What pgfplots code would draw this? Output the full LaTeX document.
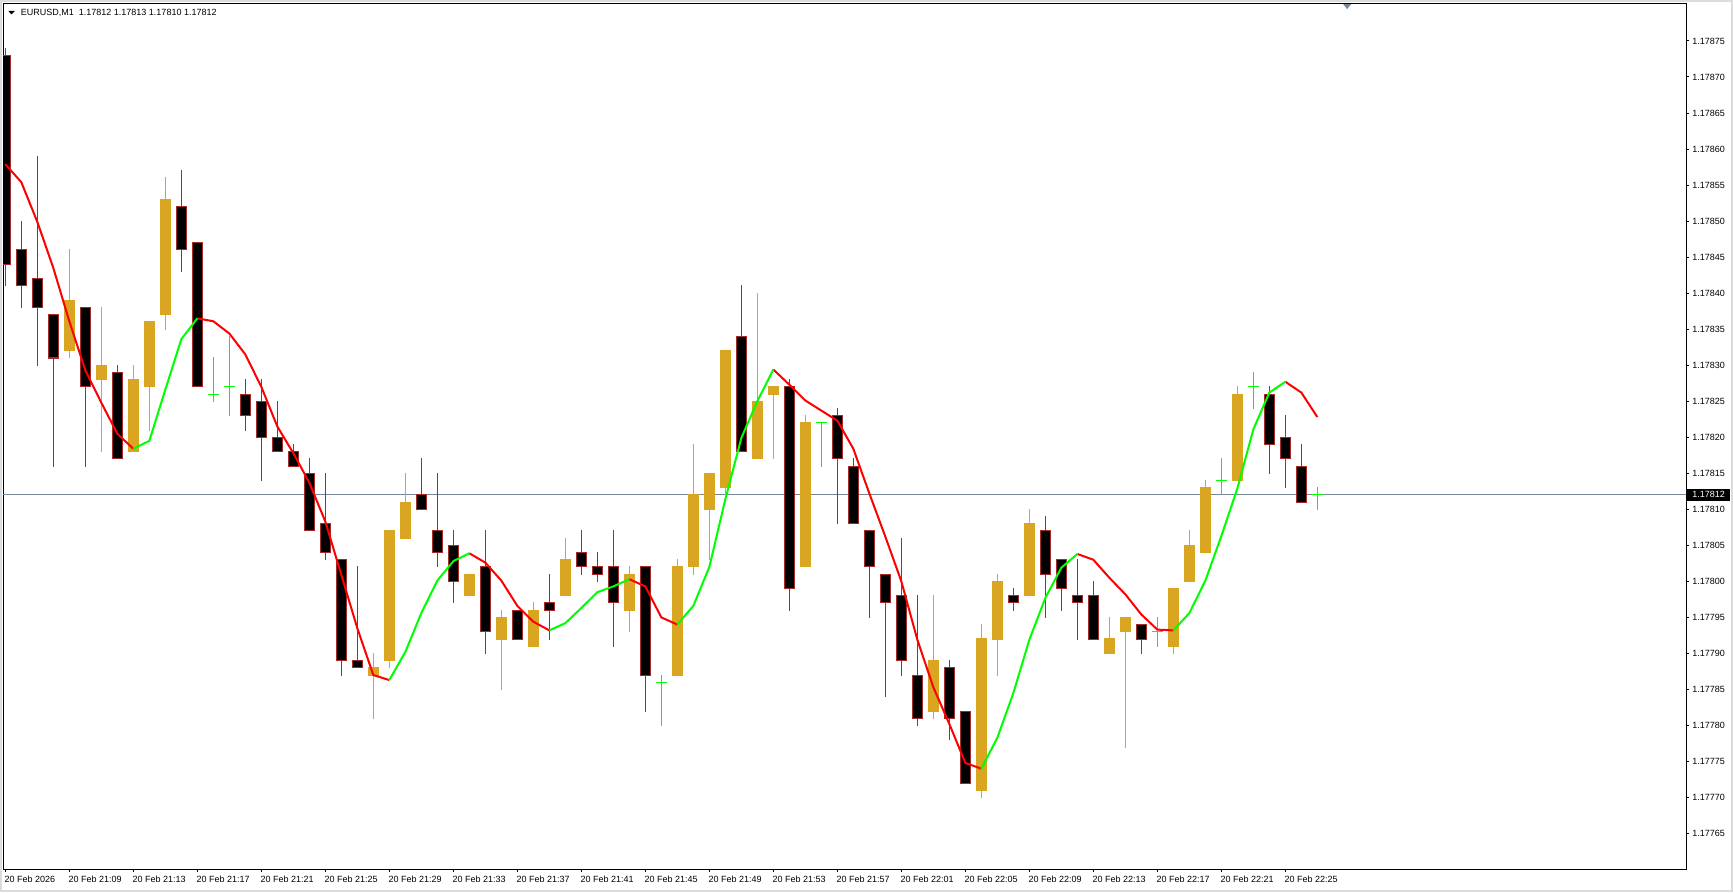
\documentclass[border=0pt]{standalone}
\usepackage{fontspec}
\setmainfont{Liberation Sans}
\usepackage{pgfplots}
\usepackage{pgfplotstable}
\pgfplotsset{compat=1.18}
\definecolor{bull}{HTML}{DAA520}
\definecolor{bearedge}{HTML}{A52A2A}
\definecolor{doji}{HTML}{00FF00}
\definecolor{maup}{HTML}{00FF00}
\definecolor{madn}{HTML}{FF0000}
\definecolor{pline}{HTML}{778899}
\definecolor{winborder}{HTML}{DCDCDC}

% EURUSD M1 candles, prices as offsets: v means 1.17000 + v*0.00001
\pgfplotstableread{
i o h l c
0 873 874 841 844
1 846 850 838 841
2 842 859 830 838
3 837 837 816 831
4 832 846 831 839
5 838 838 816 827
6 828 838 818 830
7 829 830 817 817
8 818 830 818 828
9 827 836 821 836
10 837 856 835 853
11 852 857 843 846
12 847 847 827 827
13 826 831 825 826
14 827 834 823 827
15 826 828 821 823
16 825 828 814 820
17 820 825 818 818
18 818 819 816 816
19 815 817 807 807
20 808 815 803 804
21 803 803 787 789
22 789 802 788 788
23 787 790 781 788
24 789 807 788 807
25 806 815 806 811
26 812 817 810 810
27 807 815 802 804
28 805 807 797 800
29 798 801 798 801
30 802 807 790 793
31 792 796 785 795
32 796 796 792 792
33 791 797 791 796
34 797 801 792 796
35 798 806 798 803
36 804 807 801 802
37 802 804 800 801
38 802 807 791 797
39 796 802 793 801
40 802 802 782 787
41 786 787 780 786
42 787 803 787 802
43 802 819 801 812
44 810 815 803 815
45 813 832 812 832
46 834 841 818 818
47 817 840 817 825
48 826 827 817 827
49 827 828 796 799
50 802 823 802 822
51 822 822 816 822
52 823 824 808 817
53 816 817 808 808
54 807 807 795 802
55 801 801 784 797
56 798 806 787 789
57 787 798 780 781
58 782 798 781 789
59 788 789 778 781
60 782 782 772 772
61 771 794 770 792
62 792 801 787 800
63 798 799 796 797
64 798 810 798 808
65 807 809 795 801
66 803 803 796 799
67 798 803 792 797
68 798 800 792 792
69 790 795 790 792
70 793 795 777 795
71 794 794 790 792
72 793 795 791 793
73 791 799 790 799
74 800 807 800 805
75 804 814 804 813
76 814 817 812 814
77 814 827 814 826
78 827 829 824 827
79 826 827 815 819
80 820 823 813 817
81 816 819 811 811
82 812 813 810 812
}\candles

% moving average (same offsets); r=1: point on a falling (red) run, g=1: on a rising (green) run
\pgfplotstableread{
i ma r g
0 857.9 1 0
1 855.4 1 0
2 849.9 1 0
3 843.5 1 0
4 836.1 1 0
5 829.3 1 0
6 824.8 1 0
7 820.5 1 0
8 818.4 1 1
9 819.5 0 1
10 826.6 0 1
11 833.6 0 1
12 836.5 1 1
13 836.1 1 0
14 834.4 1 0
15 831.5 1 0
16 827.0 1 0
17 821.5 1 0
18 817.8 1 0
19 813.7 1 0
20 808.3 1 0
21 800.9 1 0
22 793.5 1 0
23 787.0 1 0
24 786.3 1 1
25 790.2 0 1
26 795.6 0 1
27 800.1 0 1
28 802.8 0 1
29 803.9 1 1
30 802.6 1 0
31 800.1 1 0
32 796.6 1 0
33 794.4 1 0
34 793.2 1 1
35 794.2 0 1
36 796.3 0 1
37 798.5 0 1
38 799.3 0 1
39 800.3 1 1
40 799.3 1 0
41 795.0 1 0
42 794.0 1 1
43 796.6 0 1
44 802.0 0 1
45 811.4 0 1
46 819.9 0 1
47 825.0 0 1
48 829.4 1 1
49 827.3 1 0
50 825.1 1 0
51 823.7 1 0
52 822.3 1 0
53 818.4 1 0
54 812.2 1 0
55 806.2 1 0
56 800.0 1 0
57 791.9 1 0
58 785.3 1 0
59 780.2 1 0
60 774.8 1 0
61 774.0 1 1
62 778.3 0 1
63 784.5 0 1
64 791.9 0 1
65 797.7 0 1
66 801.9 0 1
67 803.8 1 1
68 803.0 1 0
69 800.5 1 0
70 798.2 1 0
71 795.4 1 0
72 793.3 1 0
73 793.2 1 1
74 795.6 0 1
75 800.1 0 1
76 806.3 0 1
77 812.9 0 1
78 821.1 0 1
79 826.2 0 1
80 827.7 1 1
81 826.2 1 0
82 822.8 1 0
}\matable

\begin{document}
\begin{tikzpicture}
\path[use as bounding box, fill=white] (0,0) rectangle (1299.75pt,669pt);
\draw[winborder, line width=1.5pt] (0.75pt,0.75pt) rectangle (1299pt,668.25pt);
\begin{axis}[
  at={(2.25pt,17.25pt)}, anchor=south west,
  scale only axis, width=1262.25pt, height=649.125pt,
  xmin=-0.144, xmax=105.04, ymin=760.08, ymax=880.2,
  axis line style={black, line width=0.75pt},
  tick align=outside, major tick length=2.25pt,
  tick style={black, line width=0.75pt},
  xtick pos=left, ytick pos=right, yticklabel pos=right,
  xtick={0,4,...,80},
  xticklabels={20 Feb 2026,20 Feb 21:09,20 Feb 21:13,20 Feb 21:17,20 Feb 21:21,20 Feb 21:25,20 Feb 21:29,20 Feb 21:33,20 Feb 21:37,20 Feb 21:41,20 Feb 21:45,20 Feb 21:49,20 Feb 21:53,20 Feb 21:57,20 Feb 22:01,20 Feb 22:05,20 Feb 22:09,20 Feb 22:13,20 Feb 22:17,20 Feb 22:21,20 Feb 22:25},
  ytick={765,770,...,875},
  yticklabels={1.17765,1.17770,1.17775,1.17780,1.17785,1.17790,1.17795,1.17800,1.17805,1.17810,1.17815,1.17820,1.17825,1.17830,1.17835,1.17840,1.17845,1.17850,1.17855,1.17860,1.17865,1.17870,1.17875},
  ticklabel style={font=\fontsize{6.75pt}{8pt}\selectfont, inner sep=0pt, text=black},
  xticklabel style={anchor=north west, xshift=-0.75pt, yshift=-2.5pt},
  yticklabel style={anchor=west, xshift=2.25pt},
  grid=none,
  candle/.style={only marks, mark=*, mark size=0pt, mark options={draw=none, fill=none},
    error bars/y dir=both, error bars/y explicit, error bars/error mark=none},
]
% current price line
\addplot[pline, line width=0.75pt] coordinates {(-1,812) (106,812)};
% wicks
\addplot[candle, error bars/error bar style={bearedge, line width=0.75pt}]
  table[x=i, y expr={\thisrow{c}<\thisrow{o} ? 0.5*(\thisrow{h}+\thisrow{l}) : nan},
        y error expr={0.5*(\thisrow{h}-\thisrow{l})+0.07}] {\candles};
\addplot[candle, error bars/error bar style={bull, line width=0.75pt}]
  table[x=i, y expr={\thisrow{c}>\thisrow{o} ? 0.5*(\thisrow{h}+\thisrow{l}) : nan},
        y error expr={0.5*(\thisrow{h}-\thisrow{l})+0.07}] {\candles};
\addplot[candle, error bars/error bar style={doji, line width=0.75pt}]
  table[x=i, y expr={\thisrow{c}==\thisrow{o} ? 0.5*(\thisrow{h}+\thisrow{l}) : nan},
        y error expr={0.5*(\thisrow{h}-\thisrow{l})+0.07}] {\candles};
% bodies
\addplot[candle, error bars/error bar style={bull, line width=8.25pt}]
  table[x=i, y expr={\thisrow{c}>\thisrow{o} ? 0.5*(\thisrow{o}+\thisrow{c}) : nan},
        y error expr={0.5*(\thisrow{c}-\thisrow{o})+0.07}] {\candles};
\addplot[candle, error bars/error bar style={bearedge, line width=8.25pt}]
  table[x=i, y expr={\thisrow{c}<\thisrow{o} ? 0.5*(\thisrow{o}+\thisrow{c}) : nan},
        y error expr={0.5*(\thisrow{o}-\thisrow{c})+0.07}] {\candles};
\addplot[candle, error bars/error bar style={black, line width=6.75pt}]
  table[x=i, y expr={\thisrow{c}<\thisrow{o} ? 0.5*(\thisrow{o}+\thisrow{c}) : nan},
        y error expr={0.5*(\thisrow{o}-\thisrow{c})-0.069}] {\candles};
% doji crosses (horizontal bar)
\addplot[only marks, mark=-, mark size=4.125pt, mark options={doji, line width=0.75pt}]
  table[x=i, y expr={\thisrow{c}==\thisrow{o} ? \thisrow{o} : nan}] {\candles};
% moving average, coloured by direction
\addplot[madn, line width=1.5pt, unbounded coords=jump, mark=none]
  table[x=i, y expr={\thisrow{r}==1 ? \thisrow{ma} : nan}] {\matable};
\addplot[maup, line width=1.5pt, unbounded coords=jump, mark=none]
  table[x=i, y expr={\thisrow{g}==1 ? \thisrow{ma} : nan}] {\matable};
\coordinate (pricelbl) at (axis cs:105.04,812);
\coordinate (shiftmark) at (axis cs:83.86,880.2);
\end{axis}
\node[fill=black, text=white, anchor=west, inner sep=0pt, minimum width=31.9pt, minimum height=8.6pt,
  font=\fontsize{6.75pt}{8pt}\selectfont, xshift=0.75pt] at (pricelbl) {1.17812};
\fill[pline] ([xshift=-3pt,yshift=-0.4pt]shiftmark) -- ([xshift=3pt,yshift=-0.4pt]shiftmark) -- ([yshift=-4.2pt]shiftmark) -- cycle;
\fill[black] (6.2pt,660.75pt) -- (11.25pt,660.75pt) -- (8.7pt,658.2pt) -- cycle;
\node[anchor=west, inner sep=0pt, font=\fontsize{6.75pt}{8pt}\selectfont] at (15.5pt,659.5pt)
  {EURUSD,M1\ \ 1.17812 1.17813 1.17810 1.17812};
\end{tikzpicture}
\end{document}
